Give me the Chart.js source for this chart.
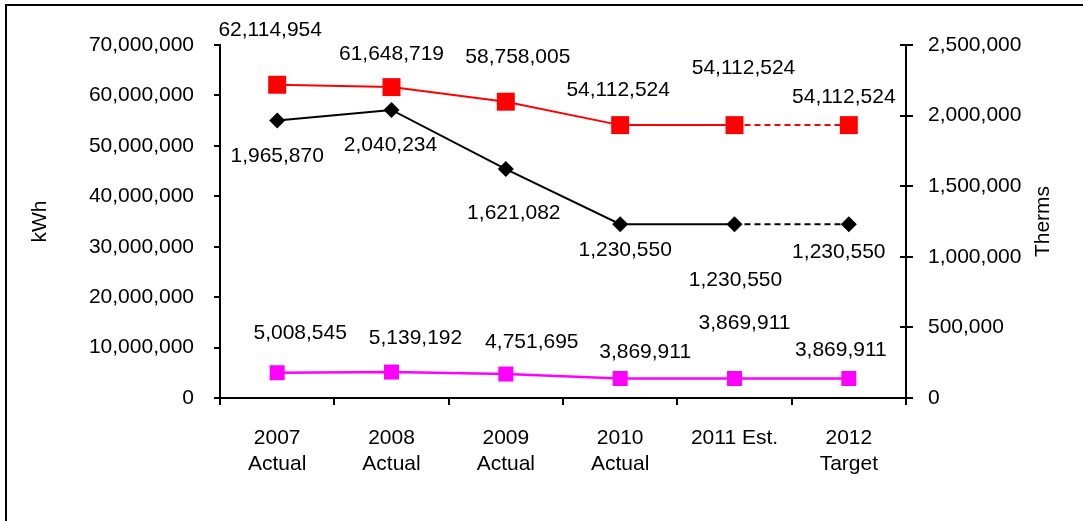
<!DOCTYPE html>
<html>
<head>
<meta charset="utf-8">
<script src="https://cdn.jsdelivr.net/npm/chart.js@4/dist/chart.umd.min.js"></script>
<style>
  html, body { margin: 0; padding: 0; background: #fff; }
  #wrap { width: 1083px; height: 521px; position: relative; }
</style>
</head>
<body>
<div id="wrap"><canvas id="energyChart" width="1083" height="521"></canvas></div>
<script>
// Chart data
const years = [["2007", "Actual"], ["2008", "Actual"], ["2009", "Actual"], ["2010", "Actual"], "2011 Est.", ["2012", "Target"]];
const electricityKwh = [62114954, 61648719, 58758005, 54112524, 54112524, 54112524];
const gasTherms = [1965870, 2040234, 1621082, 1230550, 1230550, 1230550];
const otherKwh = [5008545, 5139192, 4751695, 3869911, 3869911, 3869911];

// hand-placed value label offsets (px from each point), like the original
const redLabelOffsets = [[-7, -55], [0, -33], [12, -44], [-2, -35], [9, -57], [-5, -28]];
const blackLabelOffsets = [[0, 36], [-1, 35], [8, 44], [5, 26], [1, 56], [-10, 28]];
const magentaLabelOffsets = [[23, -40], [24, -34], [26, -32], [25, -26], [10, -55], [-8, -28]];

const FONT = '"Liberation Sans", Arial, sans-serif';
const fmt = v => Number(v).toLocaleString('en-US');

// dashed last segment for the projected values
const dashLast = ctx => ctx.p1DataIndex === 5 ? [6, 4] : undefined;

const valueLabels = {
    id: 'valueLabels',
    afterDatasetsDraw(chart) {
        const ctx = chart.ctx;
        ctx.save();
        ctx.font = '21px ' + FONT;
        ctx.fillStyle = '#000';
        ctx.textAlign = 'center';
        ctx.textBaseline = 'middle';
        chart.data.datasets.forEach((ds, i) => {
            const meta = chart.getDatasetMeta(i);
            meta.data.forEach((pt, j) => {
                const off = ds.labelOffsets[j];
                ctx.fillText(fmt(ds.data[j]), pt.x + off[0], pt.y + off[1]);
            });
        });
        ctx.restore();
    }
};

const decorations = {
    id: 'decorations',
    afterDraw(chart) {
        const ctx = chart.ctx;
        const area = chart.chartArea;
        ctx.save();
        // frame on left and top
        ctx.strokeStyle = '#000';
        ctx.lineWidth = 2;
        ctx.beginPath();
        ctx.moveTo(6, 521);
        ctx.lineTo(6, 5);
        ctx.lineTo(1083, 5);
        ctx.stroke();

        // right axis ticks crossing the axis line
        const yR = chart.scales.yRight;
        ctx.beginPath();
        yR.ticks.forEach(t => {
            const y = Math.round(yR.getPixelForValue(t.value));
            ctx.moveTo(area.right - 6, y);
            ctx.lineTo(area.right + 7, y);
        });
        ctx.stroke();

        // axis titles
        ctx.font = '21px ' + FONT;
        ctx.fillStyle = '#000';
        ctx.textAlign = 'center';
        ctx.textBaseline = 'middle';
        const midY = (area.top + area.bottom) / 2;
        ctx.translate(40, midY);
        ctx.rotate(-Math.PI / 2);
        ctx.fillText('kWh', 0, 0);
        ctx.setTransform(1, 0, 0, 1, 0, 0);
        ctx.translate(1043, midY);
        ctx.rotate(-Math.PI / 2);
        ctx.fillText('Therms', 0, 0);
        ctx.restore();
    }
};

new Chart(document.getElementById('energyChart'), {
    type: 'line',
    data: {
        labels: years,
        datasets: [
            {
                label: 'Electricity (kWh)',
                data: electricityKwh,
                yAxisID: 'y',
                borderColor: '#ff0000',
                backgroundColor: '#ff0000',
                borderWidth: 2,
                pointStyle: 'rect',
                pointRadius: 12.7,
                pointBorderWidth: 0,
                segment: { borderDash: dashLast },
                labelOffsets: redLabelOffsets
            },
            {
                label: 'Natural gas (Therms)',
                data: gasTherms,
                yAxisID: 'yRight',
                borderColor: '#000000',
                backgroundColor: '#000000',
                borderWidth: 2,
                pointStyle: 'rectRot',
                pointRadius: 8,
                pointBorderWidth: 0,
                segment: { borderDash: dashLast },
                labelOffsets: blackLabelOffsets
            },
            {
                label: 'Other (kWh)',
                data: otherKwh,
                yAxisID: 'y',
                borderColor: '#ff00ff',
                backgroundColor: '#ff00ff',
                borderWidth: 2.5,
                pointStyle: 'rect',
                pointRadius: 10.6,
                pointBorderWidth: 0,
                labelOffsets: magentaLabelOffsets
            }
        ]
    },
    options: {
        responsive: false,
        animation: false,
        clip: false,
        layout: { padding: { top: 45, left: 0, right: 0, bottom: 0 } },
        plugins: {
            legend: { display: false },
            tooltip: { enabled: false }
        },
        scales: {
            x: {
                offset: true,
                grid: {
                    offset: true,
                    drawOnChartArea: false,
                    color: '#000',
                    lineWidth: 2,
                    tickLength: 7
                },
                border: { display: true, color: '#000', width: 2 },
                ticks: {
                    color: '#000',
                    font: { family: FONT, size: 21 },
                    padding: 21,
                    maxRotation: 0,
                    autoSkip: false
                },
                afterFit: s => { s.height = 123; }
            },
            y: {
                position: 'left',
                min: 0,
                max: 70000000,
                grid: {
                    drawOnChartArea: false,
                    color: '#000',
                    lineWidth: 2,
                    tickLength: 6
                },
                border: { display: true, color: '#000', width: 2 },
                ticks: {
                    stepSize: 10000000,
                    color: '#000',
                    font: { family: FONT, size: 21 },
                    padding: 20,
                    callback: v => fmt(v)
                },
                afterFit: s => { s.width = 220; }
            },
            yRight: {
                position: 'right',
                min: 0,
                max: 2500000,
                grid: {
                    drawOnChartArea: false,
                    drawTicks: false
                },
                border: { display: true, color: '#000', width: 2 },
                ticks: {
                    stepSize: 500000,
                    color: '#000',
                    font: { family: FONT, size: 21 },
                    padding: 22,
                    callback: v => fmt(v)
                },
                afterFit: s => { s.width = 177; }
            }
        }
    },
    plugins: [valueLabels, decorations]
});
</script>
</body>
</html>
